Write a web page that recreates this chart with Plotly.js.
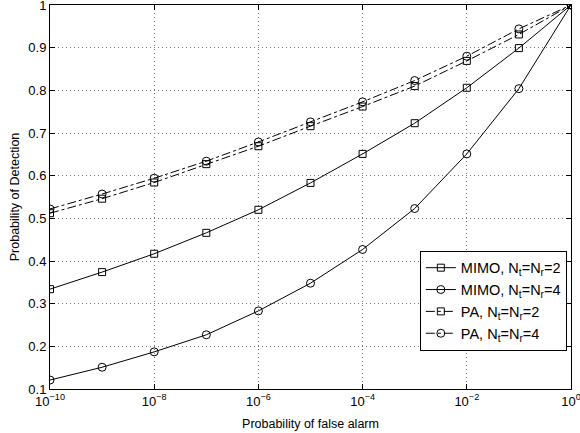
<!DOCTYPE html>
<html>
<head>
<meta charset="utf-8">
<script src="https://cdn.plot.ly/plotly-3.0.1.min.js"></script>
<style>html,body{margin:0;padding:0;background:#fff;}#chart{width:580px;height:433px;}</style>
</head>
<body>
<div id="chart"></div>
<script>
const pfa = [1e-10, 1e-9, 1e-8, 1e-7, 1e-6, 1e-5, 1e-4, 1e-3, 1e-2, 1e-1, 1];
const mimo2 = [0.334, 0.374, 0.417, 0.466, 0.520, 0.583, 0.651, 0.723, 0.806, 0.899, 1.0];
const mimo4 = [0.121, 0.151, 0.187, 0.227, 0.283, 0.348, 0.427, 0.523, 0.651, 0.804, 1.0];
const pa2 = [0.512, 0.546, 0.584, 0.627, 0.669, 0.716, 0.762, 0.810, 0.869, 0.931, 1.0];
const pa4 = [0.522, 0.557, 0.594, 0.634, 0.679, 0.726, 0.773, 0.823, 0.880, 0.944, 1.0];
const names = ['MIMO, N<sub>t</sub>=N<sub>r</sub>=2', 'MIMO, N<sub>t</sub>=N<sub>r</sub>=4', 'PA, N<sub>t</sub>=N<sub>r</sub>=2', 'PA, N<sub>t</sub>=N<sub>r</sub>=4'];
const xTickVals = [1e-10, 1e-8, 1e-6, 1e-4, 1e-2, 1];
const xTickText = ['10<sup>−10</sup>', '10<sup>−8</sup>', '10<sup>−6</sup>', '10<sup>−4</sup>', '10<sup>−2</sup>', '10<sup>0</sup>'];
const yTickVals = [0.1, 0.2, 0.3, 0.4, 0.5, 0.6, 0.7, 0.8, 0.9, 1];
const yTickText = ['0.1', '0.2', '0.3', '0.4', '0.5', '0.6', '0.7', '0.8', '0.9', '1'];

function tr(y, name, sym, dash, size) {
  return {
    x: pfa, y: y, name: name, type: 'scatter', mode: 'lines+markers',
    line: {color: '#000', width: 1, dash: dash},
    marker: {symbol: sym, size: size, color: '#000', line: {color: '#000', width: 1}}
  };
}
const data = [
  tr(mimo2, names[0], 'square-open', 'solid', 7),
  tr(mimo4, names[1], 'circle-open', 'solid', 8),
  tr(pa2, names[2], 'square-open', 'dashdot', 7),
  tr(pa4, names[3], 'circle-open', 'dashdot', 8)
];
const axisCommon = {
  showline: true, linecolor: '#000', linewidth: 1, mirror: 'ticks',
  ticks: 'inside', ticklen: 5, tickcolor: '#000', tickwidth: 1,
  showgrid: true, gridcolor: '#777', griddash: '1px,3px', gridwidth: 1,
  zeroline: false, ticklabeloverflow: 'allow',
  tickfont: {family: 'Liberation Sans, Arial, sans-serif', size: 13, color: '#000'}
};
const layout = {
  width: 580, height: 433,
  margin: {l: 50, r: 9, t: 5, b: 44},
  paper_bgcolor: '#fff', plot_bgcolor: '#fff',
  font: {family: 'Liberation Sans, Arial, sans-serif', size: 12, color: '#000'},
  xaxis: Object.assign({}, axisCommon, {
    type: 'log', range: [-10, 0], tickvals: xTickVals, ticktext: xTickText,
    title: {text: 'Probability of false alarm', font: {size: 12.5}, standoff: 11}
  }),
  yaxis: Object.assign({}, axisCommon, {
    range: [0.1, 1], tickvals: yTickVals, ticktext: yTickText,
    title: {text: 'Probability of Detection', font: {size: 12.5}, standoff: 5}
  }),
  showlegend: true,
  legend: {
    x: 0.992, y: 0.36, xanchor: 'right', yanchor: 'top',
    bgcolor: '#fff', bordercolor: '#000', borderwidth: 1,
    font: {size: 14.5}, tracegroupgap: 0
  }
};
Plotly.newPlot('chart', data, layout, {staticPlot: true, displayModeBar: false});
</script>
</body>
</html>
